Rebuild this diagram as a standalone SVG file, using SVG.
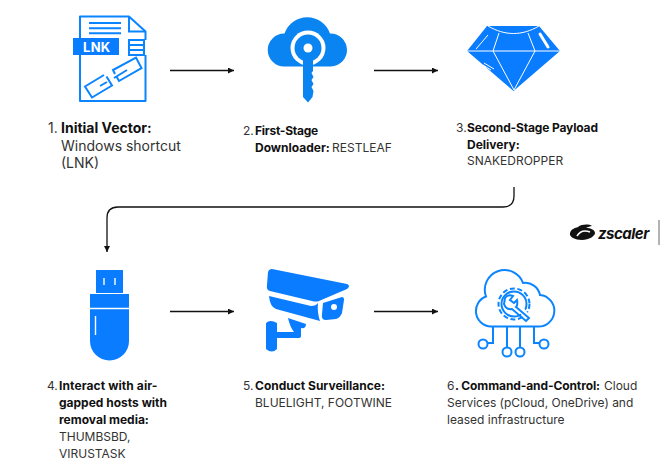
<svg xmlns="http://www.w3.org/2000/svg" width="660" height="470" viewBox="0 0 660 470">
<defs>
<marker id="ah" markerUnits="userSpaceOnUse" markerWidth="7" markerHeight="7" refX="6" refY="3" orient="auto"><path d="M0 0L6 3L0 6z" fill="#111"/></marker>
</defs>
<style>
text{font-family:"Inter","Liberation Sans",sans-serif;fill:#333;font-size:12px}
.b{font-weight:700;fill:#111}
.l{font-size:14px}
.c{fill:none;stroke:#111;stroke-width:1.300;marker-end:url(#ah)}
.o{fill:none;stroke:#0a84ff;stroke-width:2}
.f{fill:#0a7cff}
.k{fill:#0a84f0}
.w{fill:none;stroke:#fff;stroke-width:1}
</style>
<rect width="660" height="470" fill="#fff"/>
<g id="connectors">
<path class="c" d="M170 70.500H234"/>
<path class="c" d="M374 70.500H438"/>
<path class="c" d="M514 187V196Q514 207 503 207H118Q107 207 107 218V252"/>
<path class="c" d="M170 311.500H234"/>
<path class="c" d="M374 311.500H438"/>
</g>
<g id="node1">
<path class="o" d="M80 38V16.500H129L145.500 31.500V40M145.500 55V101H80V55" stroke-linejoin="round"/>
<path class="o" d="M129 16.500V31.500H145.500" stroke-width="1.200"/>
<path class="o" d="M89 23H121M89 28.300H121M89 33.300H121" stroke-width="1.600"/>
<rect class="f" x="73" y="38" width="46" height="17"/>
<text x="83" y="52" style="font-size:13px;font-weight:700;fill:#fff;letter-spacing:.3px">LNK</text>
<path class="o" d="M129 40H144V55H129zM129 45H144M129 50H144" stroke-width="1.400"/>
<path class="o" d="M104 75L85 86.500L92 97.500L112 85.500L106.500 76.500M100 86L107 82"/>
<path class="o" d="M115 74L113 70L136 57.500L141.500 68L119 81L116.500 76.500M114 78L127 70"/>
</g>
<g id="node2">
<path class="k" d="M284 66.500A16.500 16.500 0 0 1 284.500 33.500A24 24 0 0 1 330 33.500A16.500 16.500 0 0 1 331 66.500z"/>
<circle cx="308" cy="48" r="17.500" fill="#fff"/>
<path d="M303 56H313V71L311.500 73L313.500 77L311.500 80L313.500 84L311.500 87L313.500 91L312.500 97L308 102.500L303 97z" class="k"/>
<circle cx="308" cy="48" r="13.500" class="k"/>
<circle cx="308" cy="48" r="4.500" fill="#fff"/>
</g>
<g id="node3">
<path class="f" d="M487 26H539L560 51L513.500 91L467 51z"/>
<path class="w" d="M488 26C505 36 522 36 539 26M499 33L493 51L514 90L535 51L528 33M467 51H560"/>
<path class="w" d="M488 35L476 49M484 63L494 69M483 65L491 70"/>
<path d="M540 34L548 47" stroke="#fff" stroke-width="3" stroke-linecap="round" fill="none"/>
</g>
<g id="node4">
<rect class="f" x="96" y="270" width="27" height="23"/>
<path d="M104 278V285M115 278V285" stroke="#fff" stroke-width="1.400" fill="none"/>
<path class="f" d="M90 294H129V341A19.500 19.500 0 0 1 90 341z"/>
<path d="M90 308.500H129M95.500 316V335" stroke="#fff" stroke-width="1.400" fill="none"/>
</g>
<g id="node5">
<path class="f" d="M272 269L347 284Q351 286 347 289L319 301Q316 302 312 301L270 291Q266 290 267 285L268 272Q269 269 272 269z"/>
<path class="f" d="M269 296L311 306Q316 306 318 303Q317 312 320 321L276 309Q270 307 269 296z"/>
<path class="f" d="M323 303L342 297Q344 297 344 300L342 313Q340 318 336 319L326 320Q321 320 322 314z"/>
<circle cx="334" cy="307" r="3" fill="#fff"/>
<path class="f" d="M266 323Q270 319 277 323V332H294Q290 327 288 318L306 324Q306 329 301 328V336Q301 338 298 338H277V349Q272 354 266 349z"/>
</g>
<g id="node6">
<path class="o" d="M491 326.500A15.500 15.500 0 0 1 486 296.500A19 19 0 0 1 523 283A15 15 0 0 1 540 295A15.500 15.500 0 0 1 537 326.500z"/>
<path class="o" d="M493 327V343H488M507 327V347M520 327V347M534 327V343H539"/>
<circle class="o" cx="483" cy="344" r="4.500"/>
<circle class="o" cx="507" cy="352" r="4.500"/>
<circle class="o" cx="520" cy="352" r="4.500"/>
<circle class="o" cx="544" cy="344" r="4.500"/>
<circle class="o" cx="514" cy="304" r="15.500" stroke-dasharray="5 2.600" stroke-width="3"/>
<circle class="o" cx="514" cy="304" r="12.500" stroke-width="1.300"/>
<path d="M511 297L528 318" stroke="#fff" stroke-width="6" fill="none"/>
<path class="o" d="M505 298Q508 294 513 296L510 300L514 303L517 300Q518 305 516 307L529 318L526 321L512 309Q506 310 504 304z" stroke-width="1.800" fill="#fff"/>
</g>
<g id="logo">
<path d="M570 233C571 229 575 228 578 227C582 224 589 224 592 226C590 226 588 227 586 228C591 228 595 230 595 233C595 236 589 240 582 240C575 240 569 237 570 233z" fill="#111"/>
<path d="M577 236C580 231 585 230 590 232" stroke="#fff" stroke-width="1.500" fill="none"/>
<text x="598" y="238.500" style="font-size:15px;font-weight:700;fill:#111;font-style:italic;letter-spacing:-.5px">zscaler</text>
<path d="M659 220V245" stroke="#666" stroke-width="1"/>
</g>
<g id="labels">
<g id="label1"><text x="48" y="133" class="l">1.</text><text x="61" y="133" class="l b">Initial Vector:</text><text x="61" y="151" class="l">Windows shortcut</text><text x="61" y="168" class="l">(LNK)</text></g>
<g id="label2"><text x="243" y="135">2.</text><text x="255" y="135" class="b" style="letter-spacing:-.25px">First-Stage</text><text x="255" y="152" class="b">Downloader:</text><text x="332" y="152">RESTLEAF</text></g>
<g id="label3"><text x="456" y="132">3.</text><text x="467" y="132" class="b" style="letter-spacing:-.15px">Second-Stage Payload</text><text x="467" y="149" class="b">Delivery:</text><text x="467" y="165">SNAKEDROPPER</text></g>
<g id="label4"><text x="47" y="390">4.</text><text x="59" y="390" class="b" style="letter-spacing:.1px">Interact with air-</text><text x="59" y="407" class="b">gapped hosts with</text><text x="59" y="424" class="b">removal media:</text><text x="59" y="441">THUMBSBD,</text><text x="59" y="458">VIRUSTASK</text></g>
<g id="label5"><text x="243" y="390">5.</text><text x="255" y="390" class="b">Conduct Surveillance:</text><text x="255" y="407">BLUELIGHT, FOOTWINE</text></g>
<g id="label6"><text x="447" y="390">6</text><text x="455" y="390" class="b" style="letter-spacing:-.1px">. Command-and-Control:</text><text x="604" y="390">Cloud</text><text x="447" y="407">Services (pCloud, OneDrive) and</text><text x="447" y="424">leased infrastructure</text></g>
</g>
</svg>
